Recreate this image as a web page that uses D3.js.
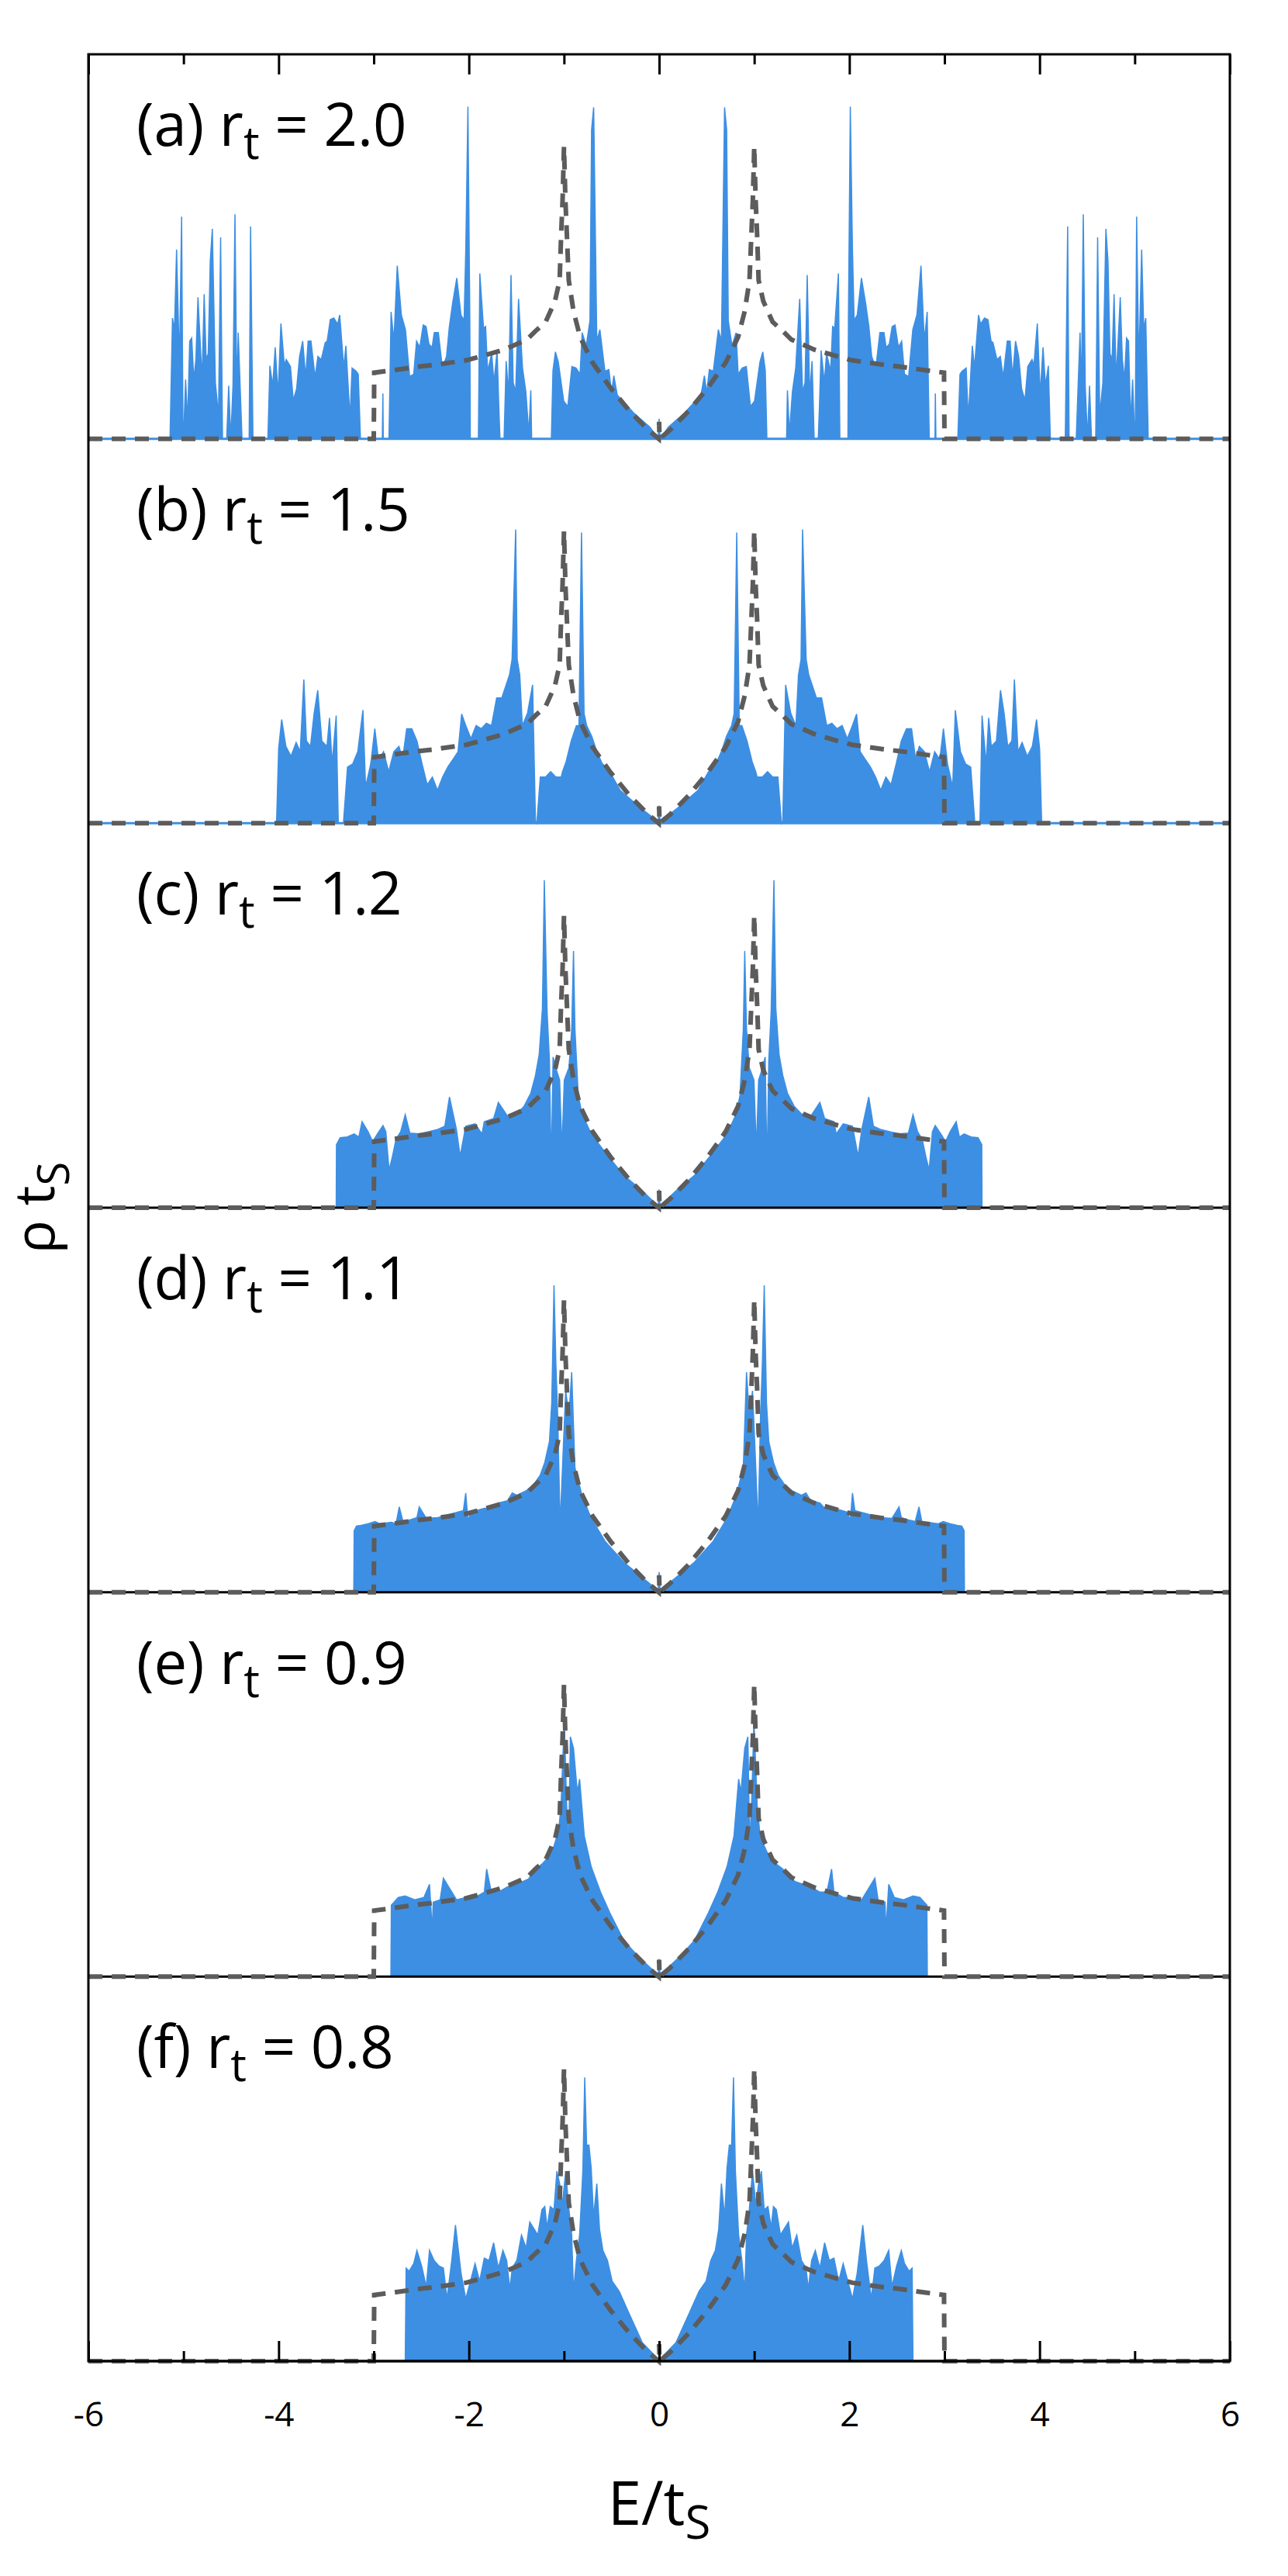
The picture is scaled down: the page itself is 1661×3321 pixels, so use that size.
<!DOCTYPE html>
<html>
<head>
<meta charset="utf-8">
<script src="https://cdn.jsdelivr.net/npm/d3@7"></script>
<style>
body{margin:0;background:#fff;}
text{font-family:"Open Sans",sans-serif;fill:#000;}
</style>
</head>
<body>
<svg id="chart"></svg>
<script>
// panel labels
var panelLetters=["a","b","c","d","e","f"];
var rtValues=["2.0","1.5","1.2","1.1","0.9","0.8"];

// x ticks
var majorTicks=[-6,-4,-2,0,2,4,6];
var minorTicks=[-5,-3,-1,1,3,5];

// pure lattice DOS (dashed), E >= 0 half, [E, rho]
var dosHalf=[[0,0.022],[0.004,0],[0.12,0.012],[0.31,0.036],[0.51,0.066],[0.70,0.099],[0.83,0.132],[0.90,0.166],[0.95,0.206],[0.97,0.266],[0.985,0.31],[1.0,0.38],[1.015,0.31],[1.03,0.266],[1.046,0.206],[1.095,0.179],[1.193,0.152],[1.3,0.14],[1.39,0.129],[1.63,0.116],[1.88,0.107],[2.03,0.102],[2.37,0.096],[2.52,0.094],[2.81,0.089],[2.995,0.086],[3.0,0],[6,0]];

// DOS for each r_t, E >= 0 half (the spectrum is symmetric in E), [E, rho]
var specA=[[0,0.026],[0.01,0],[0.096,0.015],[0.27,0.034],[0.44,0.057],[0.476,0.082],[0.5,0.06],[0.528,0.09],[0.57,0.088],[0.623,0.142],[0.655,0.127],[0.688,0.431],[0.71,0.402],[0.727,0.154],[0.766,0.121],[0.809,0.138],[0.831,0.084],[0.874,0.092],[0.917,0.094],[0.96,0.042],[1.003,0.049],[1.06,0.1],[1.09,0.113],[1.116,0.089],[1.133,0],[1.34,0],[1.349,0.063],[1.37,0.007],[1.401,0.061],[1.436,0.092],[1.478,0.182],[1.508,0.061],[1.534,0.073],[1.557,0.213],[1.583,0.057],[1.608,0.101],[1.63,0],[1.673,0],[1.686,0.044],[1.703,0.115],[1.737,0.073],[1.76,0.111],[1.803,0.088],[1.824,0.146],[1.846,0.144],[1.885,0.215],[1.9,0],[1.985,0],[1.99,0.154],[2.01,0.432],[2.032,0.25],[2.05,0.154],[2.083,0.161],[2.127,0.209],[2.17,0.177],[2.205,0.146],[2.235,0.107],[2.278,0.092],[2.321,0.138],[2.364,0.138],[2.386,0.119],[2.42,0.123],[2.45,0.146],[2.48,0.148],[2.516,0.119],[2.55,0.127],[2.58,0.084],[2.623,0.081],[2.667,0.142],[2.71,0.161],[2.753,0.225],[2.788,0.127],[2.818,0.165],[2.84,0],[2.9,0],[2.904,0.059],[2.91,0],[3.14,0],[3.163,0.084],[3.185,0.088],[3.228,0.092],[3.25,0.027],[3.293,0.121],[3.315,0.092],[3.358,0.161],[3.38,0.149],[3.42,0.157],[3.457,0.155],[3.49,0.127],[3.51,0.125],[3.552,0.103],[3.587,0.107],[3.617,0.08],[3.66,0.127],[3.69,0.127],[3.716,0.08],[3.747,0.127],[3.78,0.107],[3.811,0.065],[3.846,0.05],[3.876,0.094],[3.92,0.103],[3.94,0.096],[3.976,0.15],[4.006,0.057],[4.036,0.119],[4.062,0.069],[4.092,0.095],[4.113,0],[4.27,0],[4.295,0.276],[4.31,0],[4.385,0],[4.405,0.069],[4.425,0.138],[4.44,0.06],[4.459,0.292],[4.48,0.069],[4.503,0],[4.525,0.069],[4.546,0],[4.59,0],[4.61,0.262],[4.632,0.03],[4.665,0.073],[4.697,0.273],[4.719,0.231],[4.74,0.111],[4.762,0.103],[4.783,0.188],[4.805,0.077],[4.827,0.131],[4.848,0.184],[4.87,0.103],[4.892,0.077],[4.914,0.131],[4.935,0.127],[4.957,0.022],[4.978,0.077],[5.0,0],[5.005,0],[5.02,0.289],[5.043,0.096],[5.073,0.246],[5.095,0.142],[5.116,0.157],[5.142,0],[6,0]];

var specB=[[0,0.023],[0.01,0.002],[0.195,0.02],[0.41,0.043],[0.519,0.067],[0.6,0.078],[0.654,0.093],[0.708,0.113],[0.762,0.127],[0.789,0.143],[0.816,0.378],[0.843,0.127],[0.87,0.127],[0.924,0.107],[0.978,0.08],[1.016,0.067],[1.03,0.06],[1.086,0.06],[1.14,0.067],[1.195,0.06],[1.249,0.06],[1.286,0],[1.3,0.003],[1.33,0.18],[1.384,0.143],[1.438,0.127],[1.465,0.193],[1.492,0.213],[1.508,0.382],[1.546,0.213],[1.573,0.193],[1.6,0.183],[1.654,0.163],[1.708,0.163],[1.762,0.127],[1.816,0.13],[1.87,0.123],[1.924,0.127],[1.978,0.11],[2.032,0.127],[2.076,0.142],[2.114,0.093],[2.168,0.083],[2.222,0.073],[2.276,0.06],[2.33,0.043],[2.384,0.06],[2.438,0.05],[2.492,0.077],[2.546,0.107],[2.6,0.123],[2.654,0.123],[2.697,0.083],[2.735,0.1],[2.789,0.093],[2.843,0.067],[2.897,0.093],[2.951,0.083],[2.989,0.123],[3.032,0.077],[3.086,0.047],[3.114,0.147],[3.168,0.093],[3.222,0.077],[3.276,0.073],[3.319,0],[3.373,0],[3.395,0.14],[3.438,0.077],[3.465,0.137],[3.492,0.1],[3.546,0.107],[3.589,0.173],[3.627,0.143],[3.665,0.1],[3.708,0.107],[3.735,0.187],[3.773,0.093],[3.816,0.105],[3.87,0.087],[3.924,0.1],[3.968,0.135],[4.0,0.097],[4.022,0],[6,0]];

var specC=[[0,0.024],[0.01,0.002],[0.176,0.022],[0.371,0.042],[0.567,0.072],[0.714,0.096],[0.811,0.122],[0.85,0.146],[0.885,0.232],[0.9,0.334],[0.919,0.232],[0.948,0.182],[0.997,0.166],[1.022,0.076],[1.046,0.166],[1.08,0.179],[1.115,0.196],[1.134,0.049],[1.153,0.192],[1.178,0.256],[1.207,0.426],[1.227,0.259],[1.261,0.199],[1.3,0.172],[1.349,0.149],[1.42,0.132],[1.496,0.122],[1.594,0.119],[1.69,0.137],[1.74,0.116],[1.838,0.112],[1.862,0.096],[1.935,0.109],[2.033,0.106],[2.092,0.067],[2.131,0.102],[2.204,0.144],[2.253,0.106],[2.326,0.102],[2.424,0.099],[2.522,0.096],[2.62,0.097],[2.669,0.121],[2.717,0.099],[2.766,0.089],[2.805,0.066],[2.839,0.049],[2.873,0.099],[2.903,0.107],[2.962,0.096],[3.011,0.086],[3.06,0.099],[3.123,0.112],[3.157,0.092],[3.206,0.096],[3.279,0.092],[3.353,0.091],[3.392,0.082],[3.395,0],[6,0]];

var specD=[[0,0.026],[0.01,0.002],[0.176,0.019],[0.371,0.039],[0.567,0.066],[0.714,0.096],[0.811,0.126],[0.885,0.162],[0.919,0.286],[0.948,0.229],[0.982,0.262],[1.007,0.189],[1.041,0.086],[1.066,0.229],[1.085,0.296],[1.105,0.399],[1.129,0.246],[1.153,0.196],[1.202,0.169],[1.251,0.152],[1.324,0.139],[1.398,0.132],[1.496,0.126],[1.544,0.129],[1.593,0.119],[1.691,0.116],[1.74,0.109],[1.838,0.109],[1.984,0.104],[2.009,0.092],[2.033,0.129],[2.058,0.106],[2.18,0.102],[2.326,0.097],[2.448,0.096],[2.522,0.111],[2.546,0.097],[2.62,0.094],[2.693,0.092],[2.732,0.111],[2.766,0.089],[2.815,0.091],[2.937,0.089],[2.986,0.092],[3.06,0.089],[3.133,0.087],[3.182,0.086],[3.206,0.08],[3.21,0],[6,0]];

var specE=[[0,0.023],[0.01,0.002],[0.225,0.027],[0.371,0.047],[0.518,0.083],[0.616,0.11],[0.714,0.143],[0.787,0.183],[0.836,0.257],[0.86,0.24],[0.9,0.297],[0.933,0.312],[0.948,0.2],[0.953,0.1],[0.962,0.2],[0.972,0.223],[0.997,0.333],[1.031,0.223],[1.056,0.19],[1.105,0.17],[1.153,0.157],[1.226,0.147],[1.3,0.14],[1.373,0.127],[1.447,0.123],[1.52,0.12],[1.593,0.117],[1.69,0.11],[1.764,0.11],[1.813,0.14],[1.838,0.11],[1.935,0.103],[2.033,0.103],[2.13,0.1],[2.268,0.128],[2.302,0.1],[2.375,0.097],[2.385,0.06],[2.414,0.12],[2.473,0.103],[2.57,0.1],[2.67,0.105],[2.742,0.103],[2.815,0.093],[2.82,0],[6,0]];

var specF=[[0,0],[0.02,0.004],[0.176,0.024],[0.323,0.064],[0.42,0.091],[0.494,0.104],[0.543,0.131],[0.591,0.144],[0.626,0.171],[0.655,0.231],[0.689,0.187],[0.714,0.251],[0.738,0.281],[0.762,0.281],[0.782,0.369],[0.802,0.247],[0.836,0.164],[0.87,0.131],[0.9,0.091],[0.919,0.164],[0.948,0.197],[0.982,0.247],[1.017,0.204],[1.046,0.231],[1.075,0.247],[1.105,0.197],[1.144,0.201],[1.178,0.174],[1.202,0.201],[1.232,0.197],[1.276,0.164],[1.31,0.171],[1.36,0.181],[1.398,0.147],[1.447,0.164],[1.496,0.131],[1.544,0.121],[1.569,0.094],[1.603,0.131],[1.642,0.144],[1.69,0.121],[1.74,0.154],[1.789,0.131],[1.838,0.134],[1.887,0.104],[1.935,0.127],[1.984,0.104],[2.033,0.081],[2.082,0.114],[2.141,0.177],[2.18,0.131],[2.23,0.081],[2.268,0.121],[2.317,0.124],[2.366,0.131],[2.414,0.144],[2.448,0.097],[2.497,0.124],[2.546,0.144],[2.58,0.127],[2.629,0.117],[2.66,0.121],[2.669,0],[6,0]];

var spectra=[specA,specB,specC,specD,specE,specF];

// Layout
var width=1661, height=3321;
var plotLeft=114, plotRight=1586, plotTop=70, plotBottom=3044;
var panelH=(plotBottom-plotTop)/6;
var blue="#3d8fe3", grey="#5c5c5c";

var svg=d3.select("#chart")
          .attr("width",width)
          .attr("height",height)
          .style("background","#fff");

// x scale shared by all panels
var xScale=d3.scaleLinear()
             .domain([-6,6])
             .range([plotLeft,plotRight]);

// the spectrum is symmetric in E, so the E<0 half is the mirror of the E>=0 half
function mirror(half){
  var neg=half.filter(d=>d[0]>0).map(d=>[-d[0],d[1]]).reverse();
  return neg.concat(half);
}

var dosFull=mirror(dosHalf);

spectra.forEach(function(half,i){
  var base=plotTop+(i+1)*panelH;
  var yScale=d3.scaleLinear()
               .domain([0,0.5])
               .range([base,base-panelH]);

  var area=d3.area()
             .x(d=>xScale(d[0]))
             .y0(yScale(0))
             .y1(d=>yScale(d[1]));

  var line=d3.line()
             .x(d=>xScale(d[0]))
             .y(d=>yScale(d[1]));

  var g=svg.append("g");

  // blue spectrum
  g.append("path")
     .datum(mirror(half))
     .attr("d",area)
     .attr("fill",blue)
     .attr("stroke",blue)
     .attr("stroke-width",1.5)
     .attr("stroke-linejoin","miter");

  // zero line
  g.append("line")
     .attr("x1",plotLeft).attr("x2",plotRight)
     .attr("y1",base).attr("y2",base)
     .attr("stroke",i<2?blue:"#000")
     .attr("stroke-width",3);

  // dashed reference DOS
  g.append("path")
     .datum(dosFull)
     .attr("d",line)
     .attr("fill","none")
     .attr("stroke",grey)
     .attr("stroke-width",6)
     .attr("stroke-dasharray","18,12");

  // panel label
  var lab=g.append("text")
     .attr("x",176)
     .attr("y",base-panelH+118)
     .style("font-size","76px");
  lab.append("tspan").text("("+panelLetters[i]+") r");
  lab.append("tspan").attr("dy",17).style("font-size","58px").text("t");
  lab.append("tspan").attr("dy",-17).text(" = "+rtValues[i]);
});

// frame
svg.append("rect")
   .attr("x",plotLeft).attr("y",plotTop)
   .attr("width",plotRight-plotLeft).attr("height",plotBottom-plotTop)
   .attr("fill","none")
   .attr("stroke","#000")
   .attr("stroke-width",3);

// ticks, pointing into the plot
function addAxis(axis,y,size,ticks,labels){
  var g=svg.append("g")
           .attr("transform","translate(0,"+y+")")
           .call(axis(xScale)
                 .tickValues(ticks)
                 .tickSize(-size)
                 .tickPadding(53)
                 .tickFormat(labels?(d=>String(d)):""));
  g.select(".domain").remove();
  g.selectAll(".tick line").attr("stroke","#000").attr("stroke-width",3);
  g.selectAll(".tick text")
   .style("font-family","'Open Sans',sans-serif")
   .style("font-size","44px")
   .attr("fill","#000");
}
addAxis(d3.axisBottom,plotBottom,26,majorTicks,true);
addAxis(d3.axisBottom,plotBottom,13,minorTicks,false);
addAxis(d3.axisTop,plotTop,26,majorTicks,false);
addAxis(d3.axisTop,plotTop,13,minorTicks,false);

// x axis title
var xt=svg.append("text")
   .attr("x",(plotLeft+plotRight)/2)
   .attr("y",3255)
   .style("text-anchor","middle")
   .style("font-size","78px");
xt.append("tspan").text("E/t");
xt.append("tspan").attr("dy",18).style("font-size","60px").text("S");

// y axis title
var yt=svg.append("text")
   .attr("transform","translate(70,1557) rotate(-90)")
   .style("text-anchor","middle")
   .style("font-size","72px");
yt.append("tspan").text("\u03c1 t");
yt.append("tspan").attr("dy",19).style("font-size","56px").text("S");
</script>
</body>
</html>
